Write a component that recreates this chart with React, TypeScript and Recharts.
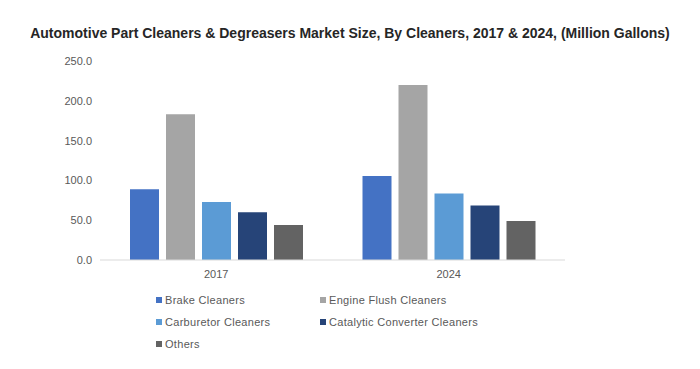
import React from 'react';
import { BarChart, Bar, XAxis, YAxis } from 'recharts';

const years = ['2017', '2024'];
const brake = [89, 105.5];
const engineFlush = [183, 220];
const carburetor = [73, 83.5];
const catalytic = [60, 68.5];
const others = [44, 49];
const yTicks = [0, 50, 100, 150, 200, 250];

const seriesNames = [
  'Brake Cleaners',
  'Engine Flush Cleaners',
  'Carburetor Cleaners',
  'Catalytic Converter Cleaners',
  'Others',
];
const seriesColors = ['#4472C4', '#A5A5A5', '#5B9BD5', '#264478', '#636363'];

const data = years.map((year, i) => ({
  year,
  'Brake Cleaners': brake[i],
  'Engine Flush Cleaners': engineFlush[i],
  'Carburetor Cleaners': carburetor[i],
  'Catalytic Converter Cleaners': catalytic[i],
  Others: others[i],
}));

const font = 'Arial, "Liberation Sans", sans-serif';

// legend drawn outside the chart so it doesn't eat plot height
function LegendGrid() {
  return (
    <div
      style={{
        position: 'absolute',
        left: 156,
        top: 293,
        display: 'grid',
        gridTemplateColumns: '164px 200px',
        rowGap: 8,
        fontFamily: font,
        fontSize: 11,
        color: '#595959',
        letterSpacing: 0.3,
      }}
    >
      {seriesNames.map((name, i) => (
        <div key={name} style={{ display: 'flex', alignItems: 'center', height: 14 }}>
          <span
            style={{
              display: 'inline-block',
              width: 6,
              height: 6,
              background: seriesColors[i],
              marginRight: 3,
            }}
          />
          {name}
        </div>
      ))}
    </div>
  );
}

export default function App() {
  return (
    <div style={{ position: 'absolute', left: 0, top: 0, width: 700, height: 369, background: '#fff' }}>
      <div
        style={{
          position: 'absolute',
          top: 25,
          left: 0,
          width: 700,
          textAlign: 'center',
          fontFamily: font,
          fontWeight: 'bold',
          fontSize: 14,
          color: '#262626',
        }}
      >
        Automotive Part Cleaners &amp; Degreasers Market Size, By Cleaners, 2017 &amp; 2024, (Million Gallons)
      </div>
      <BarChart
        width={700}
        height={369}
        data={data}
        margin={{ top: 61, right: 135, bottom: 79, left: 40 }}
        barCategoryGap={30}
        barGap={7}
      >
        <XAxis
          dataKey="year"
          axisLine={{ stroke: '#d9d9d9' }}
          tickLine={false}
          tick={{ fill: '#595959', fontSize: 11, fontFamily: font }}
          tickMargin={4}
        />
        <YAxis
          width={60}
          domain={[0, 250]}
          ticks={yTicks}
          tickFormatter={(v: number) => v.toFixed(1)}
          axisLine={false}
          tickLine={false}
          tick={{ fill: '#595959', fontSize: 11, fontFamily: font }}
        />
        {seriesNames.map((name, i) => (
          <Bar key={name} dataKey={name} fill={seriesColors[i]} isAnimationActive={false} />
        ))}
      </BarChart>
      <LegendGrid />
    </div>
  );
}
